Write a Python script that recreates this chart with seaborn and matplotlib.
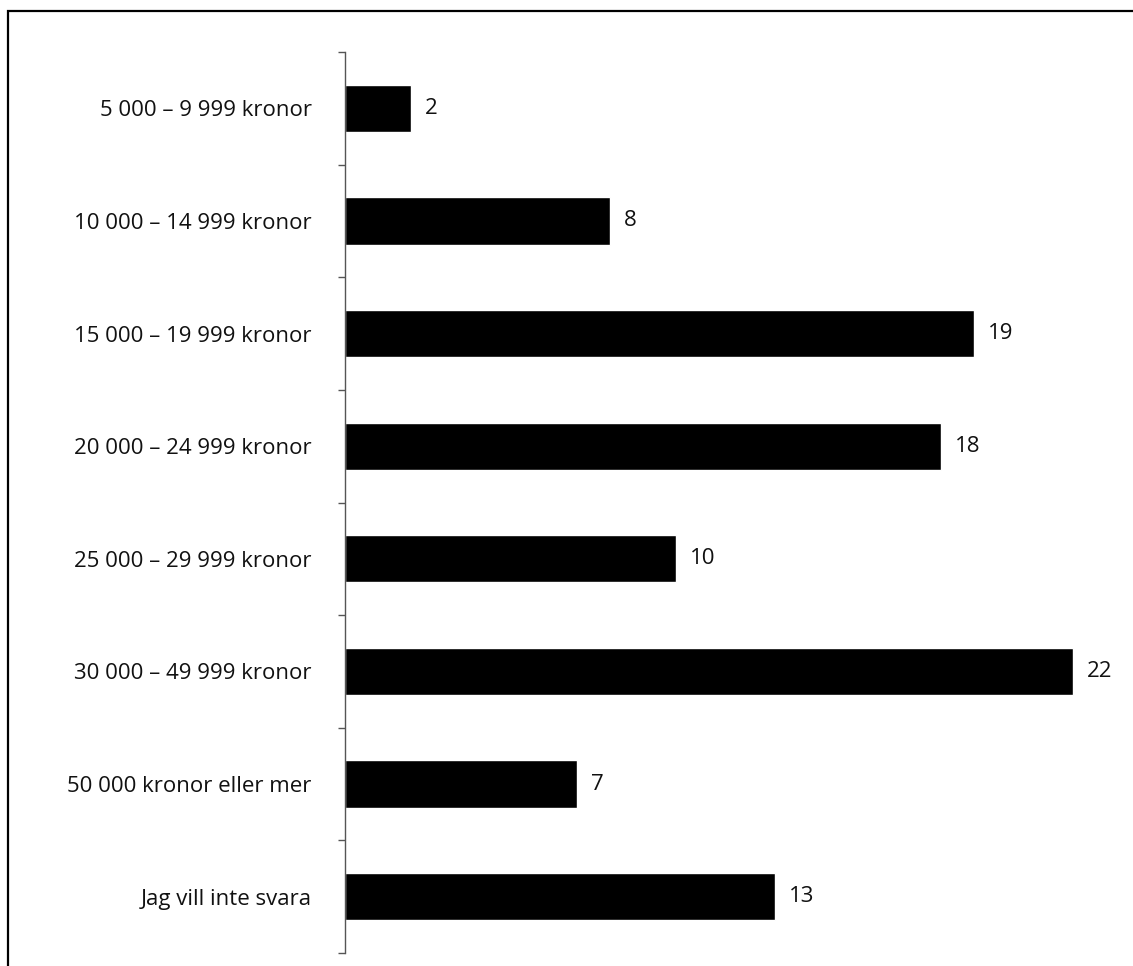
import matplotlib.pyplot as plt
import seaborn as sns
from matplotlib.patches import Rectangle
from matplotlib.ticker import FixedLocator

categories = [
    "5 000 – 9 999 kronor",
    "10 000 – 14 999 kronor",
    "15 000 – 19 999 kronor",
    "20 000 – 24 999 kronor",
    "25 000 – 29 999 kronor",
    "30 000 – 49 999 kronor",
    "50 000 kronor eller mer",
    "Jag vill inte svara",
]
values = [2, 8, 19, 18, 10, 22, 7, 13]

sns.set_style("white")
plt.rcParams["font.family"] = ["Open Sans", "DejaVu Sans"]

fig = plt.figure(figsize=(11.33, 9.66), dpi=100)
ax = fig.add_axes([345 / 1133, 13 / 966, 788 / 1133, 901 / 966])

sns.barplot(x=values, y=categories, orient="h", color="black",
            saturation=1, width=0.42, ax=ax)

ax.set_xlim(0, 788 / 33.1)
ax.set_ylim(len(categories) - 0.5, -0.5)
ax.bar_label(ax.containers[0], padding=10, fontsize=16, color="#111111")

# ticks between categories, labels at centers
ax.yaxis.set_minor_locator(FixedLocator([i - 0.5 for i in range(len(categories) + 1)]))
ax.tick_params(axis="y", which="major", length=0, pad=24, labelsize=16, labelcolor="#111111")
ax.tick_params(axis="y", which="minor", length=5, width=1, color="#555555", left=True)
ax.set_xticks([])
ax.set_xlabel("")
ax.set_ylabel("")

for side in ["top", "right", "bottom"]:
    ax.spines[side].set_visible(False)
ax.spines["left"].set_color("#555555")
ax.spines["left"].set_linewidth(1)

# outer frame (right and bottom edges fall outside the picture)
fig.patches.append(Rectangle((8 / 1133, -0.05), 1.2, 1 - 11 / 966 + 0.05,
                             transform=fig.transFigure, fill=False,
                             edgecolor="black", linewidth=1.6))

fig.savefig("out.png", dpi=100)
